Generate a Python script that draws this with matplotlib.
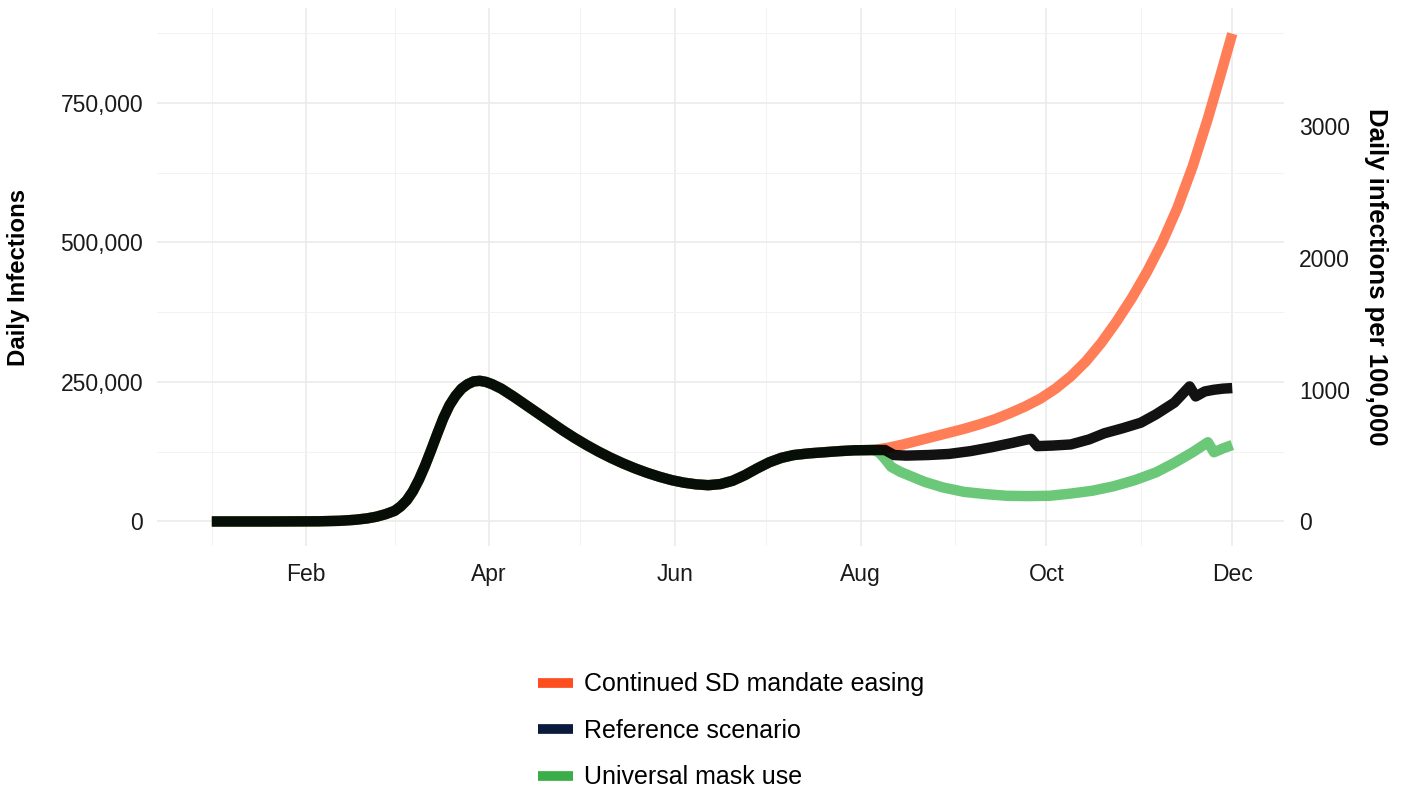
import numpy as np
import pandas as pd
import matplotlib.pyplot as plt
import matplotlib.dates as mdates
from matplotlib.lines import Line2D
from matplotlib.ticker import FuncFormatter, MultipleLocator

plt.rcParams["font.family"] = "Liberation Sans"
plt.rcParams["font.size"] = 16.5

# shared history up to the start of the projections
common_dates = [
    "01-01", "01-20", "02-05", "02-12", "02-17", "02-21", "02-24", "02-27",
    "03-01", "03-03", "03-05", "03-07", "03-09", "03-11", "03-13", "03-15",
    "03-17", "03-19", "03-21", "03-23", "03-25", "03-27", "03-29", "03-31",
    "04-02", "04-05", "04-09", "04-13", "04-17", "04-21", "04-25", "04-29",
    "05-03", "05-07", "05-11", "05-15", "05-19", "05-23", "05-27", "05-31",
    "06-04", "06-08", "06-12", "06-16", "06-20", "06-24", "06-28", "07-02",
    "07-06", "07-10", "07-15", "07-20", "07-25", "07-30", "08-05",
]
common_vals = [
    0, 0, 300, 1200, 3000, 5500, 8500, 13000,
    19000, 27000, 38000, 54000, 75000, 100000, 128000, 157000,
    185000, 208000, 225000, 238000, 246000, 251000, 252000, 250000,
    246000, 238000, 224000, 209000, 194000, 179000, 164000, 150000,
    137000, 125000, 114000, 104000, 95000, 87000, 80000, 74000,
    69500, 66500, 65000, 67000, 73000, 83000, 95000, 106000,
    114000, 119000, 122000, 124000, 126000, 127500, 128000,
]

# scenario projections
easing_dates = [
    "08-05", "08-10", "08-15", "08-20", "08-25", "08-30", "09-04", "09-09",
    "09-14", "09-19", "09-24", "09-29", "10-04", "10-09", "10-14", "10-19",
    "10-24", "10-29", "11-03", "11-08", "11-13", "11-18", "11-23", "11-27",
    "12-01",
]
easing_vals = [
    128000, 132000, 138000, 145000, 152000, 159000, 166000, 174000,
    183000, 194000, 206000, 220000, 238000, 260000, 287000, 320000,
    358000, 400000, 447000, 500000, 562000, 636000, 722000, 797000,
    874000,
]

ref_dates = [
    "08-05", "08-09", "08-12", "08-16", "08-23", "08-30", "09-06", "09-13",
    "09-20", "09-24", "09-26", "09-28", "10-03", "10-09", "10-15", "10-20",
    "10-26", "11-01", "11-06", "11-12", "11-17", "11-19", "11-22", "11-25",
    "11-28", "12-01",
]
ref_vals = [
    128000, 128000, 119000, 118000, 119000, 121000, 126000, 133000,
    141000, 146000, 148000, 135000, 136000, 138000, 147000, 158000,
    167000, 177000, 192000, 213000, 242000, 224000, 233000, 236000,
    238000, 239000,
]

mask_dates = [
    "08-05", "08-07", "08-09", "08-11", "08-14", "08-18", "08-22", "08-28",
    "09-04", "09-11", "09-18", "09-25", "10-02", "10-09", "10-16", "10-23",
    "10-30", "11-06", "11-12", "11-18", "11-23", "11-25", "11-28", "12-01",
]
mask_vals = [
    128000, 124000, 112000, 98000, 89000, 80000, 71000, 61000,
    53000, 49000, 46000, 45500, 46000, 50000, 55000, 63000,
    74000, 88000, 105000, 124000, 142000, 124000, 131000, 137000,
]

labels = ["Continued SD mandate easing", "Reference scenario", "Universal mask use"]
legend_colors = ["#fc4e1f", "#0a1a3c", "#3bae49"]
line_colors = ["#ff6f45", "#000000", "#5cc26a"]
population = 23.6e6


def to_dates(days):
    return pd.to_datetime(["2020-" + d for d in days])


def series(dates, vals):
    x = to_dates(common_dates[:-1] + dates)
    y = np.array(common_vals[:-1] + vals, dtype=float)
    return x, y


fig = plt.figure(figsize=(14.03, 7.91), dpi=100)
ax = fig.add_axes([0.1119, 0.3097, 0.8033, 0.6802])

style = dict(lw=7.5, solid_capstyle="butt", solid_joinstyle="round")
x, y = series(easing_dates, easing_vals)
ax.plot(x, y, color=line_colors[0], alpha=0.9, **style)
x, y = series(mask_dates, mask_vals)
ax.plot(x, y, color=line_colors[2], alpha=0.9, **style)
x, y = series(ref_dates, ref_vals)
ax.plot(x, y, color=line_colors[1], alpha=0.93, **style)

ax.set_xlim(pd.Timestamp("2019-12-14"), pd.Timestamp("2020-12-18"))
ax.set_ylim(-44000, 920000)

ax.xaxis.set_major_locator(mdates.MonthLocator(bymonth=[2, 4, 6, 8, 10, 12]))
ax.xaxis.set_minor_locator(mdates.MonthLocator(bymonth=[1, 3, 5, 7, 9, 11]))
ax.xaxis.set_major_formatter(mdates.DateFormatter("%b"))
ax.yaxis.set_major_locator(MultipleLocator(250000))
ax.yaxis.set_minor_locator(MultipleLocator(125000))
ax.yaxis.set_major_formatter(FuncFormatter(lambda v, p: f"{v:,.0f}"))

ax.grid(which="major", color="#ebebeb", lw=1.2)
ax.grid(which="minor", color="#f2f2f2", lw=0.7)
ax.set_axisbelow(True)
for s in ax.spines.values():
    s.set_visible(False)
ax.tick_params(which="both", length=0, colors="#1a1a1a")
ax.tick_params(axis="y", pad=10)
ax.tick_params(axis="x", pad=12)

ax.set_ylabel("Daily Infections", fontweight="bold", fontsize=17.3)
ax.yaxis.set_label_coords(-0.113, 0.5)

sec = ax.secondary_yaxis(
    "right",
    functions=(lambda v: v / population * 1e5, lambda v: v * population / 1e5),
)
sec.set_yticks([0, 1000, 2000, 3000])
sec.yaxis.set_major_formatter(FuncFormatter(lambda v, p: f"{v:.0f}"))
sec.tick_params(length=0, pad=11, colors="#1a1a1a")
for s in sec.spines.values():
    s.set_visible(False)
sec.set_ylabel("Daily infections per 100,000", fontweight="bold", fontsize=18.5,
               rotation=270, va="center")
sec.yaxis.set_label_coords(1.082, 0.5, transform=ax.transAxes)

handles = [Line2D([], [], color=c, lw=7, solid_capstyle="butt") for c in legend_colors]
fig.legend(handles, labels, loc="center left", bbox_to_anchor=(538 / 1403, 1 - 731 / 791),
           frameon=False, borderpad=0, borderaxespad=0, handlelength=1.4,
           handletextpad=0.42, labelspacing=0.9, fontsize=18)

fig.savefig("out.png", dpi=100)
